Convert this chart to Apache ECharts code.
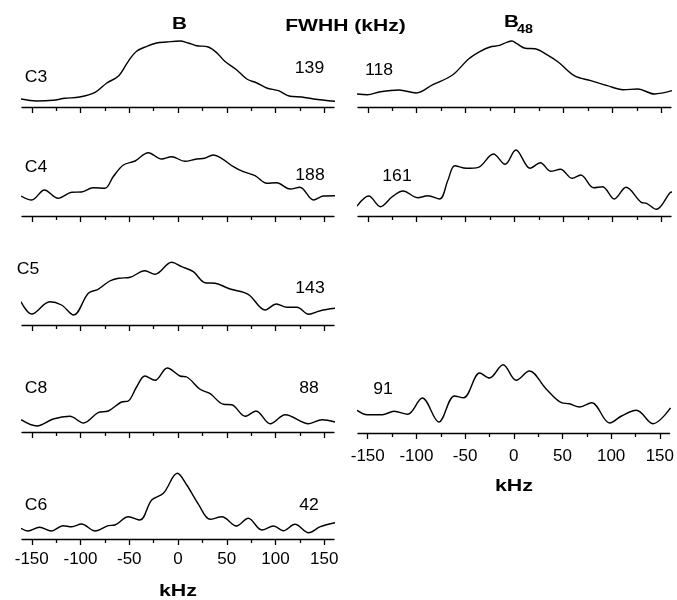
<!DOCTYPE html>
<html>
<head>
<meta charset="utf-8">
<script src="https://cdn.jsdelivr.net/npm/echarts@6/dist/echarts.min.js"></script>
<style>
  html, body { margin: 0; padding: 0; background: #fff; }
  #chart { width: 677px; height: 600px; }
</style>
</head>
<body>
<div id="chart"></div>
<script>
// Frequency axis (kHz)
const freqMin = -160;
const freqMax = 160;
const majorTicks = [-150, -100, -50, 0, 50, 100, 150];
const minorTicks = [-125, -75, -25, 25, 75, 125];

// Spectra: [frequency kHz, intensity]
const specB_C3 = [[-161,8],[-145,6],[-128,6.7],[-116,8.7],[-101,10],[-85,14.7],[-73,24],[-61,31],[-51,45.7],[-42.5,55.7],[-32,60.7],[-22,64],[-11.6,65],[2,66],[10.6,64],[19,61.3],[31,60],[40,54],[48,45.7],[60,37.3],[70.6,28],[81,24],[91,19],[103,16.3],[115,10.7],[127,10],[139,8],[161,5.7]];
const specB_C4 = [[-161,20],[-150,16],[-137,26],[-123,17.7],[-109,23.7],[-99,24],[-87,28.3],[-75,27.7],[-66.5,39.3],[-56,51],[-44,55],[-30.5,63.3],[-17,57],[-6.5,59.3],[7,54.7],[19,57],[27.4,57.7],[36,61],[44.6,57.7],[56.8,49.3],[67,44.3],[79,40.3],[91,32.7],[101,33.3],[115,27],[125,28.7],[139,16],[149,20],[161,20.3]];
const specB_C5 = [[-161,23.3],[-150,11],[-131.5,23.3],[-119.5,20],[-107,10],[-92,31.7],[-82,35.7],[-70,44],[-61,46.7],[-49,47.7],[-34,54.3],[-23.6,50.7],[-6.5,62.7],[3.8,58.3],[15.7,53.3],[27.7,42.3],[38,41.7],[53.4,36],[72,30.7],[89.4,15],[101,21],[111.7,17.7],[122,17.7],[134,10.7],[146,14.3],[161,16.7]];
const specB_C8 = [[-161,12.3],[-144.6,6],[-128,13],[-111,15.7],[-97,9],[-82,19.3],[-71.6,21],[-58,30],[-51,31],[-42.5,45],[-34,56],[-23.6,51.7],[-11,64],[2,56],[9,55],[22.6,42.7],[33,38.3],[46.6,27.7],[55,27.3],[69,15.7],[80,21],[94.6,8.3],[110,17.3],[134,8.3],[147.7,12.3],[161,10]];
const specB_C6 = [[-161,10.7],[-154,8],[-142,11.7],[-130,8],[-118,13.3],[-109,12.3],[-99,15],[-85,8],[-71.6,13.3],[-64.7,14],[-51,22.3],[-39,19],[-27,39],[-15,45.7],[-0.7,65.7],[9,54],[21,34.7],[33,19.7],[45,22.3],[60,13],[72,20.7],[86,9],[98,13],[108,8.3],[120,14.7],[134,6.3],[146,12.3],[161,16.3]];
const specB48_C3 = [[-161,13],[-150.5,12.3],[-137,15.3],[-118,17],[-100.6,14],[-83.5,22.3],[-63,32.3],[-47,48],[-35,55.7],[-25,60],[-16.5,61.3],[-8,64.7],[-2.7,66],[2.5,63.3],[11,58.7],[21,58.3],[33,52.3],[45,44.7],[61,31.3],[78,26.3],[95,21.3],[111,17.3],[126,18],[143,13],[161,16.3]];
const specB48_C4 = [[-161,10],[-149,20],[-137,9.3],[-125,19.3],[-114,25],[-99,18.3],[-88.6,20.3],[-76.6,17],[-68,36],[-61,50.3],[-49,47.7],[-37,48.7],[-21.6,62],[-9.6,51.7],[1.4,66],[16,47.7],[26.5,53.3],[37,44.7],[47,46.7],[59,37.7],[67.7,41],[81,28.3],[90,29.3],[102,17],[114,28.7],[129.6,13.7],[135,12.7],[145,6.7],[159,23.3],[161,24]];
const specB48_C8 = [[-161,22.7],[-150.5,18.3],[-135,18.3],[-123,21.7],[-109,18.7],[-94,35],[-77,11],[-61,37],[-51.5,35.3],[-35,60],[-25,55],[-11,68.3],[2.5,52.7],[16,62],[33,44.3],[49,30.3],[57,29.3],[67.7,26],[80,30.3],[98.6,10],[110.7,17],[126,22.7],[143,9.3],[161,25]];

// Sample names and FWHH values (kHz)
const sampleNames = ['C3', 'C4', 'C5', 'C8', 'C6'];
const fwhhB = ['139', '188', '143', '88', '42'];
const fwhhB48 = ['118', '161', '91'];

// Panel layout
const colLeft = { left: 22, width: 312, labelMargin: 12 };
const colRight = { left: 358, width: 313, labelMargin: 15 };
const rowBaseLeft = [107, 216, 325, 432, 539];
const rowBaseRight = [107, 216, 433];
const panelH = 80;

const panels = [
  { col: colLeft, base: rowBaseLeft[0], data: specB_C3, labels: false },
  { col: colLeft, base: rowBaseLeft[1], data: specB_C4, labels: false },
  { col: colLeft, base: rowBaseLeft[2], data: specB_C5, labels: false },
  { col: colLeft, base: rowBaseLeft[3], data: specB_C8, labels: false },
  { col: colLeft, base: rowBaseLeft[4], data: specB_C6, labels: true },
  { col: colRight, base: rowBaseRight[0], data: specB48_C3, labels: false },
  { col: colRight, base: rowBaseRight[1], data: specB48_C4, labels: false },
  { col: colRight, base: rowBaseRight[2], data: specB48_C8, labels: true }
];

const grid = [], xAxis = [], yAxis = [], series = [];
panels.forEach((p, i) => {
  grid.push({ left: p.col.left, width: p.col.width, top: p.base - panelH, height: panelH });
  // main axis: line, long ticks, labels
  xAxis.push({
    type: 'value', gridIndex: i, min: freqMin, max: freqMax, position: 'bottom',
    axisLine: { show: true, onZero: false, lineStyle: { color: '#000', width: 1.3 } },
    axisTick: { show: true, customValues: majorTicks, length: 6, lineStyle: { color: '#000', width: 1.3 } },
    axisLabel: {
      show: p.labels, customValues: majorTicks, color: '#000', fontSize: 17,
      fontFamily: '"Liberation Sans", Arial, sans-serif', margin: p.col.labelMargin
    },
    splitLine: { show: false }
  });
  // short intermediate ticks
  xAxis.push({
    type: 'value', gridIndex: i, min: freqMin, max: freqMax, position: 'bottom',
    axisLine: { show: false, onZero: false },
    axisTick: { show: true, customValues: minorTicks, length: 4, lineStyle: { color: '#000', width: 1.3 } },
    axisLabel: { show: false },
    splitLine: { show: false }
  });
  yAxis.push({ type: 'value', gridIndex: i, min: 0, max: panelH, show: false });
  series.push({
    type: 'line', xAxisIndex: i * 2, yAxisIndex: i, data: p.data,
    smooth: 0.35, showSymbol: false, silent: true,
    lineStyle: { color: '#000', width: 1.4 }
  });
});

const fontReg = '"Liberation Sans", Arial, sans-serif';
function txt(x, y, text, size, bold, sx) {
  return {
    type: 'text', x: x, y: y, scaleX: sx, silent: true,
    style: {
      text: text, fontSize: size, fontWeight: bold ? 'bold' : 'normal',
      fontFamily: fontReg, fill: '#000', align: 'center', verticalAlign: 'middle'
    }
  };
}

const labelY = [77.5, 167.5, 269.5, 389, 506];
const labelX = [36, 36, 28, 36, 36];
const fwhhY = [69, 176, 289, 389, 506];
const fwhhX = [309.5, 310, 310, 309, 309];

const graphic = [
  txt(179.5, 24, 'B', 17, true, 1.22),
  txt(345.5, 26, 'FWHH (kHz)', 17, true, 1.24),
  txt(511.5, 22, 'B', 17, true, 1.22),
  txt(525, 30, '48', 12.5, true, 1.15),
  txt(178, 591, 'kHz', 17, true, 1.26),
  txt(514, 486, 'kHz', 17, true, 1.26),
  txt(379, 71, fwhhB48[0], 16, false, 1.1),
  txt(397, 177, fwhhB48[1], 16, false, 1.1),
  txt(383, 390, fwhhB48[2], 16, false, 1.1)
];
sampleNames.forEach((n, i) => {
  graphic.push(txt(labelX[i], labelY[i], n, 16, false, 1.1));
  graphic.push(txt(fwhhX[i], fwhhY[i], fwhhB[i], 16, false, 1.1));
});

const chart = echarts.init(document.getElementById('chart'), null, { renderer: 'canvas' });
chart.setOption({
  animation: false,
  backgroundColor: '#fff',
  grid: grid,
  xAxis: xAxis,
  yAxis: yAxis,
  series: series,
  graphic: graphic
});
</script>
</body>
</html>
